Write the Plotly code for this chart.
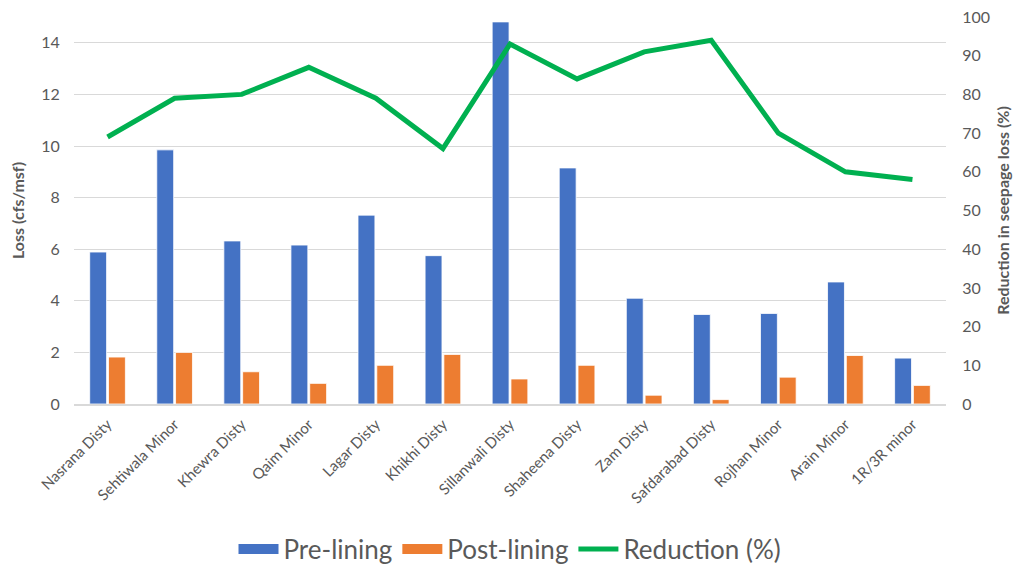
import plotly.graph_objects as go

categories = ["Nasrana Disty", "Sehtiwala Minor", "Khewra Disty", "Qaim Minor", "Lagar Disty",
              "Khikhi Disty", "Sillanwali Disty", "Shaheena Disty", "Zam Disty", "Safdarabad Disty",
              "Rojhan Minor", "Arain Minor", "1R/3R minor"]
pre_lining = [5.89, 9.85, 6.32, 6.16, 7.32, 5.75, 14.81, 9.15, 4.10, 3.47, 3.51, 4.73, 1.78]
post_lining = [1.82, 2.00, 1.25, 0.80, 1.50, 1.92, 0.97, 1.50, 0.34, 0.17, 1.04, 1.88, 0.72]
reduction = [69, 79, 80, 87, 79, 66, 93, 84, 91, 94, 70, 60, 58]

left_ticks = [0, 2, 4, 6, 8, 10, 12, 14]
right_ticks = [0, 10, 20, 30, 40, 50, 60, 70, 80, 90, 100]

FONT = "Lato, 'Open Sans', sans-serif"
GREY = "#595959"
BLUE = "#4472C4"
ORANGE = "#ED7D31"
GREEN = "#00B050"

fig = go.Figure()
fig.add_trace(go.Bar(x=categories, y=pre_lining, name="Pre-lining", showlegend=False,
                     marker=dict(color=BLUE, line=dict(color="white", width=0.8))))
fig.add_trace(go.Bar(x=categories, y=post_lining, name="Post-lining", showlegend=False,
                     marker=dict(color=ORANGE, line=dict(color="white", width=0.8))))
fig.add_trace(go.Scatter(x=categories, y=reduction, name="Reduction (%)", yaxis="y2",
                         mode="lines", line=dict(color=GREEN, width=5), showlegend=False))
# legend entries (wide rectangular swatches like the original)
fig.add_trace(go.Scatter(x=[None], y=[None], mode="lines", name="Pre-lining",
                         line=dict(color=BLUE, width=14)))
fig.add_trace(go.Scatter(x=[None], y=[None], mode="lines", name="Post-lining",
                         line=dict(color=ORANGE, width=14)))
fig.add_trace(go.Scatter(x=[None], y=[None], mode="lines", name="Reduction (%)", yaxis="y2",
                         line=dict(color=GREEN, width=5)))

fig.update_layout(
    width=1021, height=564,
    margin=dict(l=74, r=75, t=17, b=160, autoexpand=False),
    paper_bgcolor="white", plot_bgcolor="white",
    font=dict(family=FONT, color=GREY, size=15),
    barmode="group", bargap=0.44, bargroupgap=0.1,
    xaxis=dict(tickangle=-45, tickfont=dict(size=15, color=GREY), automargin=False,
               showline=True, linecolor="#D9D9D9", linewidth=1.5,
               showgrid=False, ticks="outside", ticklen=4, tickcolor="white"),
    yaxis=dict(range=[0, 15], tickvals=left_ticks, showgrid=True, gridcolor="#D9D9D9",
               gridwidth=1.2, zeroline=False, tickfont=dict(size=16, color=GREY), automargin=False,
               ticks="outside", ticklen=10, tickcolor="white",
               title=dict(text="<b>Loss (cfs/msf)</b>", font=dict(size=16, color=GREY), standoff=12)),
    yaxis2=dict(range=[0, 100], tickvals=right_ticks, overlaying="y", side="right",
                showgrid=False, zeroline=False, tickfont=dict(size=16, color=GREY), automargin=False,
                ticks="outside", ticklen=12, tickcolor="white",
                title=dict(text="<b>Reduction in seepage loss (%)</b>", font=dict(size=16, color=GREY), standoff=8)),
    legend=dict(orientation="h", x=0.5, xanchor="center", y=-0.375, yanchor="middle",
                font=dict(size=26, color=GREY), itemwidth=40, traceorder="normal"),
)

fig.write_html("out.html")
